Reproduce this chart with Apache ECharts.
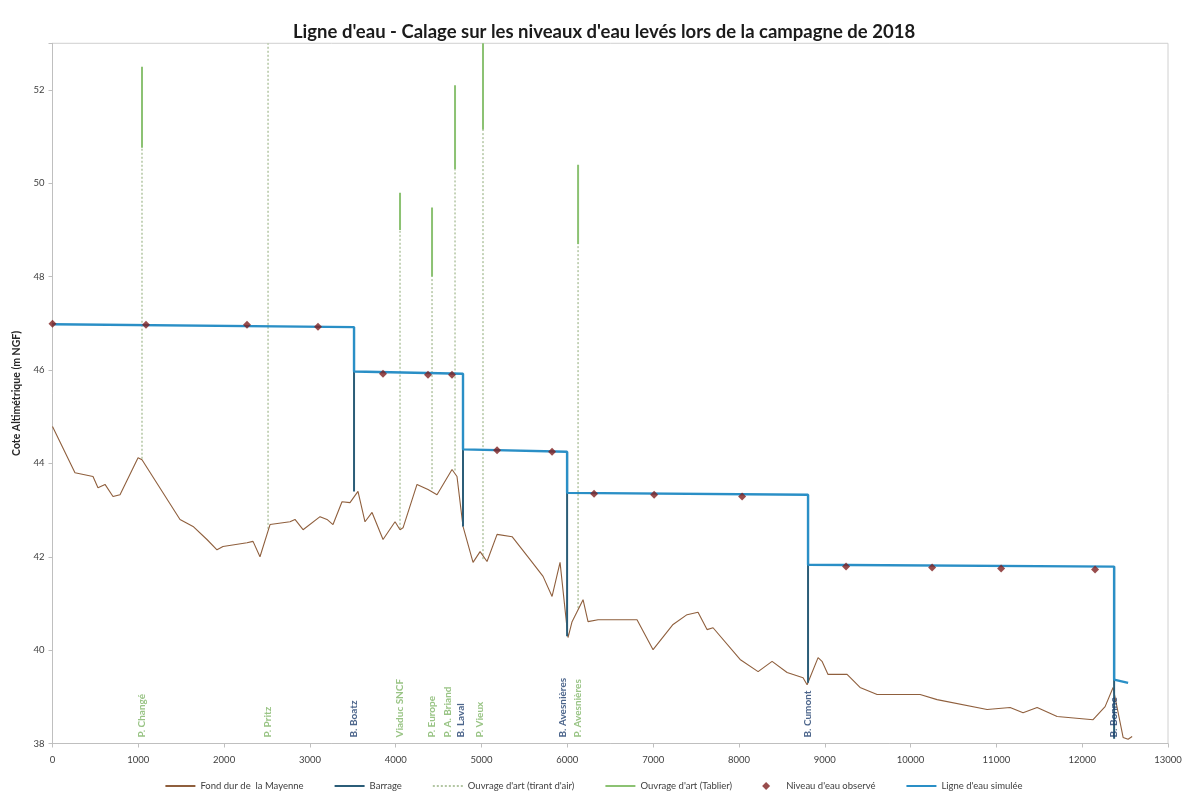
<!DOCTYPE html>
<html>
<head>
<meta charset="utf-8">
<title>Ligne d'eau - Calage 2018</title>
<script src="https://cdn.jsdelivr.net/npm/echarts@6/dist/echarts.min.js"></script>
<style>
  html, body { margin: 0; padding: 0; background: #fff; }
  #chart { width: 1187px; height: 796px; }
</style>
</head>
<body>
<div id="chart"></div>
<script>
// fond dur de la Mayenne (abscisse m, cote m NGF)
const fondX = [0, 262, 472, 530, 612, 705, 787, 997, 1043, 1486, 1638, 1800, 1917, 1987, 2267, 2337, 2418, 2535, 2768, 2826,
  2920, 3118, 3199, 3269, 3374, 3467, 3560, 3642, 3724, 3852, 3992, 4050, 4085, 4248, 4376, 4481, 4656, 4714, 4784, 4901,
  4983, 5064, 5181, 5356, 5566, 5717, 5822, 5915, 6008, 6055, 6183, 6241, 6358, 6731, 6812, 6999, 7232, 7395, 7523, 7628,
  7698, 8013, 8223, 8386, 8561, 8747, 8794, 8922, 8968, 9038, 9260, 9411, 9610, 9843, 10111, 10309, 10892, 11160, 11311, 11475,
  11708, 12127, 12267, 12360, 12477, 12535, 12582]
const fondZ = [44.79, 43.80, 43.72, 43.48, 43.55, 43.29, 43.33, 44.12, 44.08, 42.80, 42.65, 42.37, 42.15, 42.22, 42.30, 42.33, 42.00, 42.69, 42.75, 42.80,
  42.58, 42.86, 42.80, 42.69, 43.18, 43.16, 43.40, 42.75, 42.95, 42.37, 42.75, 42.58, 42.62, 43.55, 43.44, 43.33, 43.87, 43.72, 42.65, 41.88,
  42.11, 41.90, 42.48, 42.43, 41.94, 41.58, 41.15, 41.88, 40.27, 40.61, 41.08, 40.61, 40.65, 40.65, 40.65, 40.01, 40.55, 40.76, 40.81, 40.44,
  40.48, 39.80, 39.54, 39.76, 39.52, 39.41, 39.26, 39.84, 39.76, 39.48, 39.48, 39.20, 39.05, 39.05, 39.05, 38.94, 38.73, 38.77, 38.66, 38.77,
  38.58, 38.51, 38.79, 39.20, 38.13, 38.09, 38.15]

// barrages
const barrageNoms = ['B. Boatz', 'B. Laval', 'B. Avesnières', 'B. Cumont', 'B. Bonne']
const barrageX = [3514, 4784, 5997, 8805, 12372]
const barrageBas = [43.40, 42.65, 40.30, 39.30, 38.10]
const barrageHaut = [46.92, 45.92, 44.25, 43.33, 41.79]

// ouvrages d'art (ponts)
const ouvrageNoms = ['P. Changé', 'P. Pritz', 'Viaduc SNCF', 'P. Europe', 'P. A. Briand', 'P. Vieux', 'P. Avesnières']
const ouvrageX = [1043, 2512, 4050, 4423, 4691, 5017, 6125]
const ouvrageFond = [44.10, 42.60, 42.60, 43.45, 43.85, 41.95, 40.90]
const tablierBas = [50.76, 53.00, 49.00, 48.00, 50.30, 51.15, 48.70]
const tablierHaut = [52.50, null, 49.80, 49.48, 52.10, 53.00, 50.40]

// niveaux d'eau observés
const obsX = [0, 1090, 2267, 3094, 3852, 4376, 4656, 5181, 5822, 6311, 7011, 8037, 9248, 10251, 11055, 12150]
const obsZ = [46.99, 46.97, 46.97, 46.93, 45.92, 45.90, 45.90, 44.28, 44.25, 43.35, 43.33, 43.29, 41.79, 41.77, 41.75, 41.73]

// ligne d'eau simulée
const simX = [0, 3514, 3514, 4784, 4784, 5997, 5997, 8805, 8805, 12372, 12372, 12535]
const simZ = [46.98, 46.92, 45.97, 45.92, 44.30, 44.25, 43.37, 43.33, 41.83, 41.79, 39.37, 39.30]

const yMin = 38
const yMax = 53

const zip = (xs, ys) => xs.map((x, i) => [x, ys[i]])

const ligne = function (name, data, color, width, type, z) {
  return {
    name: name,
    type: 'line',
    data: data,
    symbol: 'none',
    silent: true,
    z: z,
    lineStyle: {color: color, width: width, type: type || 'solid'},
    itemStyle: {color: color},
  }
}

const couleurs = {
  fond: '#8f5f3d',
  barrage: '#2b5d78',
  tirant: '#b3c6a3',
  tablier: '#8cc273',
  obs: '#7e1f1f',
  sim: '#2a8fc6',
  txtPont: '#7fb566',
  txtBarrage: '#1f3f6e',
}

const series = []

series.push(ligne("Fond dur de  la Mayenne", zip(fondX, fondZ), couleurs.fond, 1.1, null, 2))

// tirant d'air en pointillés, du fond jusqu'au tablier
ouvrageX.forEach((x, i) => {
  series.push(ligne("Ouvrage d'art (tirant d'air)", [[x, ouvrageFond[i]], [x, tablierBas[i]]], couleurs.tirant, 1.5, [2, 2], 1))
})

// tablier
ouvrageX.forEach((x, i) => {
  if (tablierHaut[i] == null) return
  series.push(ligne("Ouvrage d'art (Tablier)", [[x, tablierBas[i]], [x, tablierHaut[i]]], couleurs.tablier, 2, null, 3))
})

// barrages
barrageX.forEach((x, i) => {
  series.push(ligne('Barrage', [[x, barrageBas[i]], [x, barrageHaut[i]]], couleurs.barrage, 2, null, 4))
})

series.push(ligne("Ligne d'eau simulée", zip(simX, simZ), couleurs.sim, 2.4, null, 5))

series.push({
  name: "Niveau d'eau observé",
  type: 'scatter',
  data: zip(obsX, obsZ),
  symbol: 'diamond',
  symbolSize: 8,
  z: 6,
  itemStyle: {color: couleurs.obs},
})

// étiquettes verticales au pied des ouvrages
const etiquettes = function (noms, xs, color, decalages) {
  return {
    type: 'scatter',
    silent: true,
    symbolSize: 1,
    z: 7,
    itemStyle: {color: 'transparent'},
    data: noms.map((n, i) => ({
      name: n,
      value: [xs[i], yMin],
      label: decalages && decalages[i] ? {offset: [6, decalages[i]]} : undefined,
    })),
    label: {
      show: true,
      position: 'inside',
      rotate: 90,
      align: 'left',
      verticalAlign: 'middle',
      offset: [6, 0],
      formatter: '{b}',
      fontFamily: 'Lato',
      fontSize: 10,
      fontWeight: 'bold',
      color: color,
    },
  }
}
series.push(etiquettes(ouvrageNoms, ouvrageX, couleurs.txtPont, [0, 0, 0, 0, -7, -3, 0]))
series.push(etiquettes(barrageNoms, barrageX, couleurs.txtBarrage, [0, -2, -4, 0, 0]))

// légende : trait seul pour les lignes, losange pour les observations
const sansSymbole = {itemStyle: {opacity: 0}}
const legendeNoms = ["Fond dur de  la Mayenne", 'Barrage', "Ouvrage d'art (tirant d'air)", "Ouvrage d'art (Tablier)", "Niveau d'eau observé", "Ligne d'eau simulée"]

const chart = echarts.init(document.getElementById('chart'))
chart.setOption({
  animation: false,
  backgroundColor: '#fff',
  textStyle: {fontFamily: 'Lato'},
  title: {
    text: "Ligne d'eau - Calage sur les niveaux d'eau levés lors de la campagne de 2018",
    left: 288,
    top: 18,
    textStyle: {fontFamily: 'Lato', fontSize: 18.5, fontWeight: 'bold', color: '#1b1b1b'},
  },
  grid: {left: 52.5, right: 19, top: 43.3, bottom: 52.5, show: true, borderColor: '#d0d0d0', borderWidth: 1},
  legend: {
    top: 776,
    left: 'center',
    itemWidth: 30,
    itemHeight: 8,
    itemGap: 30,
    symbolKeepAspect: true,
    textStyle: {fontSize: 9.5, color: '#404040'},
    data: legendeNoms.map(n => n === "Niveau d'eau observé"
      ? {name: n, icon: 'path://M5,0L10,5L5,10L0,5Z'}
      : Object.assign({name: n}, sansSymbole)),
  },
  xAxis: {
    type: 'value',
    min: 0,
    max: 13000,
    interval: 1000,
    splitLine: {show: false},
    axisLine: {lineStyle: {color: '#bfbfbf'}},
    axisTick: {lineStyle: {color: '#bfbfbf'}, length: 4},
    axisLabel: {fontSize: 9.5, color: '#404040', margin: 11, formatter: v => String(v)},
  },
  yAxis: {
    type: 'value',
    min: yMin,
    max: yMax,
    interval: 2,
    name: 'Cote Altimétrique (m NGF)',
    nameLocation: 'middle',
    nameGap: 30,
    nameTextStyle: {fontSize: 10.5, fontWeight: 'bold', color: '#262626'},
    splitLine: {show: false},
    axisLine: {show: true, lineStyle: {color: '#bfbfbf'}},
    axisTick: {show: true, lineStyle: {color: '#bfbfbf'}, length: 4},
    axisLabel: {
      fontSize: 9.5,
      color: '#404040',
      margin: 8,
      formatter: v => (v % 2 === 0 ? String(v) : ''),
    },
  },
  series: series,
})
</script>
</body>
</html>
